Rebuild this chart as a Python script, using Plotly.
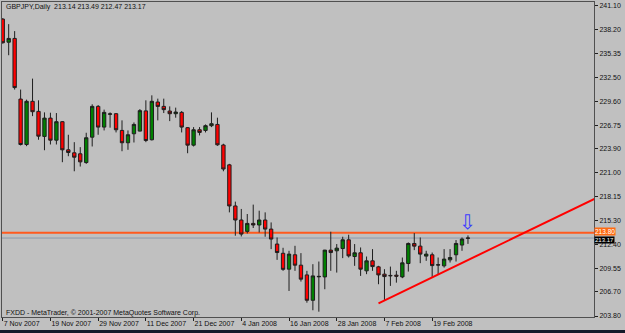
import plotly.graph_objects as go

symbol = "GBPJPY"
timeframe = "Daily"

opens = [239.50, 236.72, 237.17, 229.88, 224.42, 229.61, 228.40, 225.39, 227.59, 224.94,
         227.16, 223.78, 223.42, 223.30, 222.25, 225.30, 229.00, 226.51, 228.05, 228.12,
         226.11, 224.63, 225.71, 226.03, 228.46, 224.99, 229.52, 229.00, 228.44, 228.12,
         228.28, 226.44, 224.34, 226.19, 226.11, 226.68, 226.83, 224.36, 221.97, 217.03,
         215.34, 213.97, 214.93, 214.74, 215.34, 214.25, 212.45, 211.34, 209.43, 211.16,
         209.91, 208.74, 205.69, 208.51, 208.50, 211.72, 211.64, 211.91, 212.96, 210.95,
         211.40, 209.23, 210.43, 209.71, 208.83, 208.68, 208.71, 208.50, 210.11, 212.52,
         212.20, 211.00, 211.16, 209.97, 209.83, 210.55, 211.16, 212.33, 213.14]
highs = [239.60, 238.89, 238.05, 231.02, 229.81, 232.34, 229.73, 228.28, 228.24, 228.20,
         227.23, 225.59, 224.70, 224.10, 225.83, 229.25, 229.16, 228.61, 228.28, 228.20,
         227.32, 226.11, 227.07, 228.68, 229.73, 230.33, 229.93, 229.93, 229.00, 228.85,
         228.44, 226.51, 226.51, 226.51, 226.83, 228.28, 227.64, 224.51, 222.09, 217.55,
         216.67, 216.06, 217.19, 216.46, 216.26, 215.05, 213.24, 212.00, 211.64, 212.24,
         211.36, 209.23, 210.03, 210.35, 211.75, 213.93, 212.45, 213.33, 213.57, 212.45,
         212.04, 210.95, 211.84, 209.83, 209.43, 209.74, 209.23, 210.83, 212.64, 213.77,
         213.24, 211.64, 211.43, 210.83, 211.84, 211.84, 212.93, 213.24, 213.49]
lows = [236.55, 235.15, 231.02, 224.30, 224.22, 227.83, 224.99, 223.73, 224.42, 224.42,
        222.29, 223.01, 221.20, 221.77, 222.09, 224.18, 225.59, 226.11, 226.44, 225.87,
        223.61, 223.78, 224.66, 225.99, 224.70, 224.90, 227.32, 228.20, 227.23, 227.64,
        225.87, 223.37, 224.18, 225.51, 225.87, 226.51, 224.26, 221.20, 216.26, 213.45,
        213.36, 213.72, 214.38, 213.84, 213.33, 211.84, 210.55, 209.23, 206.81, 209.23,
        207.94, 205.40, 204.49, 204.32, 207.02, 209.23, 209.02, 210.76, 210.83, 209.83,
        208.62, 208.83, 209.23, 207.62, 205.69, 207.42, 207.81, 208.35, 209.14, 211.72,
        210.15, 210.43, 208.50, 208.83, 209.62, 210.23, 210.35, 211.64, 212.47]
closes = [236.65, 237.17, 231.26, 224.42, 229.61, 228.36, 225.42, 227.59, 224.94, 227.16,
          223.78, 223.46, 222.89, 222.33, 225.23, 229.00, 226.51, 228.28, 228.10, 226.19,
          224.63, 225.59, 226.83, 228.49, 224.90, 229.61, 229.00, 228.61, 228.12, 228.32,
          226.51, 224.34, 226.19, 225.87, 226.68, 226.92, 224.38, 221.47, 217.03, 215.34,
          213.65, 214.93, 214.74, 215.34, 214.25, 213.05, 211.43, 209.41, 211.24, 209.91,
          208.23, 205.69, 208.62, 208.56, 211.72, 211.43, 211.96, 212.96, 211.03, 211.40,
          209.43, 210.43, 209.74, 208.74, 208.54, 208.64, 208.59, 210.19, 212.52, 212.20,
          211.24, 211.24, 209.86, 209.93, 210.64, 210.83, 212.52, 213.05, 213.17]

date_labels = ["7 Nov 2007", "19 Nov 2007", "29 Nov 2007", "11 Dec 2007", "21 Dec 2007",
               "4 Jan 2008", "16 Jan 2008", "28 Jan 2008", "7 Feb 2008", "19 Feb 2008"]
bars_per_label = 8

price_ticks = [241.10, 238.20, 235.35, 232.50, 229.60, 226.75, 223.90, 221.00,
               218.15, 215.30, 212.40, 209.55, 206.70, 203.80]

resistance_level = 213.80
trend_x = [63, 99.2]
trend_y = [205.33, 217.87]

copyright_text = "FXDD - MetaTrader, \u00a9 2001-2007 MetaQuotes Software Corp."

BG = "#C0C0C0"
FONT = "Liberation Sans"

idx = list(range(len(opens)))

fig = go.Figure()
fig.add_trace(go.Candlestick(
    x=idx, open=opens, high=highs, low=lows, close=closes,
    increasing=dict(fillcolor="#008000", line=dict(color="#1e1e1e", width=1)),
    decreasing=dict(fillcolor="#FF0000", line=dict(color="#1e1e1e", width=1)),
    whiskerwidth=0, showlegend=False, hoverinfo="skip",
))
fig.add_trace(go.Scatter(
    x=trend_x, y=trend_y, mode="lines",
    line=dict(color="#FF0000", width=2), showlegend=False, hoverinfo="skip",
))

# horizontal lines
fig.add_shape(type="line", xref="paper", x0=0, x1=1, yref="y",
              y0=resistance_level, y1=resistance_level,
              line=dict(color="#FF5A1E", width=2), layer="below")
fig.add_shape(type="line", xref="paper", x0=0, x1=1, yref="y",
              y0=closes[-1], y1=closes[-1],
              line=dict(color="#8C9AAA", width=1), layer="below")
# bottom window strip
fig.add_shape(type="rect", xref="paper", yref="paper", x0=-0.01, x1=1.1,
              y0=-0.08, y1=-0.0415, fillcolor="#141a2a", line=dict(width=0))

annotations = [
    dict(xref="paper", yref="paper", x=0, y=1, xanchor="left", yanchor="middle",
         xshift=2, yshift=-5, showarrow=False,
         text=f"{symbol},{timeframe}  {opens[-1]:.2f} {highs[-1]:.2f} {lows[-1]:.2f} {closes[-1]:.2f}",
         font=dict(family=FONT, size=7, color="#101010")),
    dict(xref="paper", yref="paper", x=0, y=0, xanchor="left", yanchor="middle",
         xshift=2, yshift=4, showarrow=False, text=copyright_text,
         font=dict(family=FONT, size=7, color="#101010")),
    dict(xref="paper", yref="y", x=1, y=closes[-1], xanchor="left", yanchor="middle",
         xshift=0, yshift=-1.5, showarrow=False, text=f"{closes[-1]:.2f}",
         bgcolor="#000000", borderpad=0,
         font=dict(family=FONT, size=6, color="#FFFFFF")),
    dict(xref="paper", yref="y", x=1, y=resistance_level, xanchor="left", yanchor="middle",
         xshift=0, yshift=1, showarrow=False, text=f"{resistance_level:.2f}",
         bgcolor="#FF6A10", borderpad=0,
         font=dict(family=FONT, size=6.5, color="#FFFFFF")),
    dict(xref="x", yref="y", x=idx[-1], y=highs[-1], xanchor="center", yanchor="middle",
         yshift=13, showarrow=False, text="\u21e9",
         font=dict(family="DejaVu Sans", size=20, color="#3a3aff")),
]

fig.update_layout(
    width=625, height=333,
    margin=dict(l=2, r=31, t=2, b=16, autoexpand=False),
    paper_bgcolor=BG, plot_bgcolor=BG,
    boxgap=0.25, boxgroupgap=0.25,
    annotations=annotations,
    font=dict(family=FONT, size=7, color="#101010"),
    xaxis=dict(
        range=[-0.12, 99.13], rangeslider=dict(visible=False),
        tickvals=[i * bars_per_label for i in range(len(date_labels))],
        ticktext=date_labels, ticks="outside", ticklen=3, tickcolor="#202020",
        ticklabelposition="outside right", tickangle=0, automargin=False,
        showgrid=False, zeroline=False,
        showline=True, linecolor="#505050", linewidth=1, mirror=True,
        tickfont=dict(family=FONT, size=7, color="#101010"),
    ),
    yaxis=dict(
        side="right", range=[203.68, 241.55], automargin=False,
        tickvals=price_ticks, ticktext=[f"{v:.2f}" for v in price_ticks],
        ticks="outside", ticklen=3, tickcolor="#202020",
        showgrid=False, zeroline=False,
        showline=True, linecolor="#505050", linewidth=1, mirror=True,
        tickfont=dict(family=FONT, size=7, color="#101010"),
    ),
)

fig.write_html("out.html")
